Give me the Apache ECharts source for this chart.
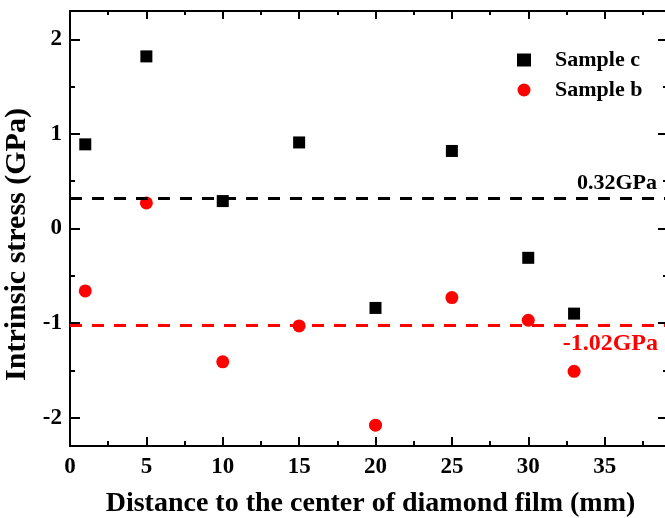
<!DOCTYPE html>
<html>
<head>
<meta charset="utf-8">
<script src="https://cdn.jsdelivr.net/npm/echarts@6/dist/echarts.min.js"></script>
<style>
html,body{margin:0;padding:0;background:#fff;}
#chart{width:665px;height:518px;}
</style>
</head>
<body>
<div id="chart"></div>
<script>
// ---- data ----
var distances = [1, 5, 10, 15, 20, 25, 30, 33];
var sampleC = [0.89, 1.82, 0.29, 0.91, -0.84, 0.82, -0.31, -0.90];
var sampleB = [-0.66, 0.27, -1.41, -1.03, -2.08, -0.73, -0.97, -1.51];
var refLineC = 0.32;
var refLineB = -1.02;
var refLabelC = '0.32GPa';
var refLabelB = '-1.02GPa';
var seriesNames = ['Sample c', 'Sample b'];
var xTitle = 'Distance to the center of diamond film (mm)';
var yTitle = 'Intrinsic stress (GPa)';

function pairs(xs, ys) { return xs.map(function (x, i) { return [x, ys[i]]; }); }

var FONT = '"Liberation Serif", "Times New Roman", serif';
var chart = echarts.init(document.getElementById('chart'), null, {renderer: 'canvas'});

var yBase = {type: 'value', min: -2.3, max: 2.3, splitLine: {show: false}};
var option = {
  backgroundColor: '#fff',
  animation: false,
  grid: {left: 70, top: 11, width: 611, height: 435, containLabel: false, outerBoundsMode: 'none'},
  legend: {
    orient: 'vertical', left: 512, top: 44, itemGap: 8,
    itemWidth: 14, itemHeight: 13,
    textStyle: {fontFamily: FONT, fontWeight: 'bold', fontSize: 22, color: '#000', padding: [0, 0, 0, 19]},
    data: seriesNames
  },
  xAxis: [{
    type: 'value', min: 0, max: 40, interval: 5, position: 'bottom',
    name: xTitle, nameLocation: 'middle', nameGap: 44,
    nameTextStyle: {fontFamily: FONT, fontWeight: 'bold', fontSize: 28, color: '#000', padding: [0, 10, 0, 0]},
    axisLine: {onZero: false, lineStyle: {color: '#000', width: 2}},
    axisTick: {inside: true, length: 9, lineStyle: {color: '#000', width: 2}},
    minorTick: {show: true, splitNumber: 2, length: 5, lineStyle: {color: '#000', width: 2}},
    axisLabel: {fontFamily: FONT, fontWeight: 'bold', fontSize: 23, color: '#000', margin: 10, showMaxLabel: false},
    splitLine: {show: false}
  }, {
    type: 'value', min: 0, max: 40, interval: 5, position: 'top',
    axisLine: {onZero: false, lineStyle: {color: '#000', width: 2}},
    axisTick: {inside: true, length: 8, lineStyle: {color: '#000', width: 2}},
    minorTick: {show: true, splitNumber: 2, length: 4, lineStyle: {color: '#000', width: 2}},
    axisLabel: {show: false},
    splitLine: {show: false}
  }],
  yAxis: [
    Object.assign({}, yBase, {
      position: 'left', minInterval: 1, maxInterval: 1,
      name: yTitle, nameLocation: 'middle', nameGap: 37, nameRotate: 90,
      nameTextStyle: {fontFamily: FONT, fontWeight: 'bold', fontSize: 30, color: '#000', padding: [0, 32, 0, 0]},
      axisLine: {onZero: false, lineStyle: {color: '#000', width: 2}},
      axisTick: {inside: true, length: 10, lineStyle: {color: '#000', width: 2}},
      axisLabel: {fontFamily: FONT, fontWeight: 'bold', fontSize: 23, color: '#000', margin: 8,
        showMinLabel: false, showMaxLabel: false,
        formatter: function (v) { return Math.abs(v - Math.round(v)) < 1e-9 ? String(Math.round(v)) : ''; }}
    }),
    Object.assign({}, yBase, {
      position: 'left', minInterval: 0.5, maxInterval: 0.5,
      axisLine: {show: false, onZero: false},
      axisTick: {inside: true, length: 5, lineStyle: {color: '#000', width: 2}},
      axisLabel: {show: false}
    }),
    Object.assign({}, yBase, {
      position: 'right', offset: -13, minInterval: 1, maxInterval: 1,
      axisLine: {show: true, onZero: false, lineStyle: {color: '#000', width: 2}},
      axisTick: {inside: true, length: 10, lineStyle: {color: '#000', width: 2}},
      axisLabel: {show: false}
    }),
    Object.assign({}, yBase, {
      position: 'right', offset: -13, minInterval: 0.5, maxInterval: 0.5,
      axisLine: {show: false, onZero: false},
      axisTick: {inside: true, length: 5, lineStyle: {color: '#000', width: 2}},
      axisLabel: {show: false}
    })
  ],
  series: [{
    name: seriesNames[0], type: 'scatter', xAxisIndex: 0, yAxisIndex: 0,
    symbol: 'rect', symbolSize: 12,
    itemStyle: {color: '#000', opacity: 1},
    data: pairs(distances, sampleC),
    markLine: {
      silent: true, symbol: 'none', animation: false,
      lineStyle: {color: '#000', type: [12, 10], width: 3},
      label: {show: true, position: 'insideEndTop', distance: [24, 4], formatter: refLabelC,
        fontFamily: FONT, fontWeight: 'bold', fontSize: 22, color: '#000'},
      data: [{yAxis: refLineC}]
    }
  }, {
    name: seriesNames[1], type: 'scatter', xAxisIndex: 0, yAxisIndex: 0,
    symbol: 'circle', symbolSize: 13,
    itemStyle: {color: '#ff0000', opacity: 1},
    data: pairs(distances, sampleB),
    markLine: {
      silent: true, symbol: 'none', animation: false,
      lineStyle: {color: '#ff0000', type: [12, 10], width: 3},
      label: {show: true, position: 'insideEndBottom', distance: [23, 7], formatter: refLabelB,
        fontFamily: FONT, fontWeight: 'bold', fontSize: 24, color: '#ff0000'},
      data: [{yAxis: refLineB}]
    }
  }]
};
chart.setOption(option);
</script>
</body>
</html>
